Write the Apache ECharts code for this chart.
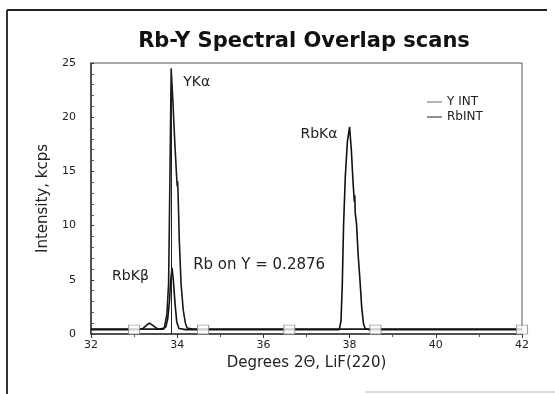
<!DOCTYPE html>
<html>
<head>
<meta charset="utf-8">
<script src="https://cdn.jsdelivr.net/npm/echarts@6/dist/echarts.min.js"></script>
<style>
  html, body { margin: 0; padding: 0; background: #fff; }
  #chart { width: 555px; height: 394px; }
</style>
</head>
<body>
<div id="chart"></div>
<script>
// Y INT scan (2-theta, kcps)
var yAngles = [32.0, 33.0, 33.6, 33.7, 33.76, 33.8, 33.83, 33.86, 33.9, 33.94, 33.98, 34.0, 34.01, 34.02, 34.05, 34.09, 34.14, 34.19, 34.23, 34.35, 35.0, 36.0, 37.0, 38.0, 39.0, 40.0, 41.0, 42.0];
var yInt = [0.45, 0.45, 0.45, 0.55, 1.8, 4.6, 13.9, 24.5, 21.5, 18.0, 15.0, 13.6, 14.1, 13.0, 8.5, 4.6, 2.2, 1.0, 0.55, 0.45, 0.45, 0.45, 0.45, 0.45, 0.45, 0.45, 0.45, 0.45];

// Rb INT scan
var rbAngles = [32.0, 33.1, 33.2, 33.3, 33.36, 33.45, 33.55, 33.68, 33.74, 33.78, 33.82, 33.85, 33.88, 33.91, 33.95, 33.99, 34.04, 34.2, 35.0, 36.0, 37.0, 37.76, 37.8, 37.83, 37.86, 37.9, 37.95, 38.0, 38.04, 38.08, 38.11, 38.12, 38.13, 38.16, 38.2, 38.24, 38.28, 38.32, 38.36, 38.45, 39.0, 40.0, 41.0, 42.0];
var rbInt = [0.4, 0.4, 0.5, 0.85, 1.0, 0.75, 0.45, 0.45, 0.7, 1.4, 3.0, 5.0, 6.1, 5.0, 2.8, 1.1, 0.5, 0.4, 0.4, 0.4, 0.4, 0.4, 1.2, 4.5, 10.0, 14.5, 17.8, 19.1, 17.0, 14.0, 12.2, 12.8, 11.2, 10.2, 7.2, 5.0, 2.5, 1.0, 0.5, 0.4, 0.4, 0.4, 0.4, 0.4];

// square markers on the baseline
var markAngles = [33.0, 34.6, 36.6, 38.6, 42.0];
var markVals = [0.4, 0.4, 0.4, 0.4, 0.4];

var xTicks = [32, 34, 36, 38, 40, 42];
var yTicks = [0, 5, 10, 15, 20, 25];

function pairs(xs, ys) {
  var out = [];
  for (var i = 0; i < xs.length; i++) out.push([xs[i], ys[i]]);
  return out;
}

var font = 'DejaVu Sans, Liberation Sans, sans-serif';
var chart = echarts.init(document.getElementById('chart'));

var option = {
  animation: false,
  backgroundColor: '#fff',
  title: {
    text: 'Rb-Y Spectral Overlap scans',
    left: 299,
    top: 26,
    textAlign: 'center',
    textStyle: { fontFamily: font, fontWeight: 'bold', fontSize: 21, color: '#111' }
  },
  legend: {
    orient: 'vertical',
    left: 422,
    top: 91,
    itemGap: 3,
    itemWidth: 15,
    itemHeight: 1,
    icon: 'rect',
    textStyle: { fontFamily: font, fontSize: 12, color: '#222' },
    data: ['Y INT', 'RbINT']
  },
  grid: {
    left: 91, right: 33, top: 63, bottom: 60,
    show: true, borderColor: '#555', borderWidth: 1
  },
  xAxis: {
    type: 'value',
    min: xTicks[0], max: xTicks[xTicks.length - 1], interval: 2,
    name: 'Degrees 2\u0398, LiF(220)',
    nameLocation: 'middle', nameGap: 17,
    nameTextStyle: { fontFamily: font, fontSize: 15, color: '#222' },
    axisLine: { lineStyle: { color: '#333', width: 1.5 } },
    axisTick: { length: 4, lineStyle: { color: '#333' } },
    minorTick: { show: true, splitNumber: 2, length: 3, lineStyle: { color: '#555' } },
    axisLabel: { fontFamily: font, fontSize: 11, color: '#222', margin: 6 },
    splitLine: { show: false }
  },
  yAxis: {
    type: 'value',
    min: yTicks[0], max: yTicks[yTicks.length - 1], interval: 5,
    name: 'Intensity, kcps',
    nameLocation: 'middle', nameGap: 36,
    nameTextStyle: { fontFamily: font, fontSize: 15, color: '#222' },
    axisLine: { show: true, lineStyle: { color: '#333', width: 1.5 } },
    axisTick: { show: true, length: 3, inside: true, lineStyle: { color: '#333' } },
    minorTick: { show: true, splitNumber: 5, length: 3, lineStyle: { color: '#555' } },
    axisLabel: { fontFamily: font, fontSize: 11, color: '#222', margin: 15 },
    splitLine: { show: false }
  },
  series: [
    {
      name: 'Y INT',
      type: 'line',
      data: pairs(yAngles, yInt),
      showSymbol: false,
      symbol: 'none',
      lineStyle: { color: '#1a1a1a', width: 1.6 },
      itemStyle: { color: '#666' },
      markLine: {
        silent: true,
        symbol: 'none',
        label: { show: false },
        lineStyle: { color: '#222', width: 1, type: 'solid' },
        data: [[{ coord: [33.86, 0] }, { coord: [33.86, 24.5] }]]
      },
      markPoint: {
        symbolSize: 0,
        label: {
          show: true, position: 'right', distance: 0,
          fontFamily: font, fontSize: 14, color: '#222',
          formatter: function (p) { return p.name; }
        },
        data: [
          { name: 'YK\u03b1', coord: [34.14, 23.2] },
          { name: 'RbK\u03b1', coord: [36.86, 18.4] },
          { name: 'RbK\u03b2', coord: [32.49, 5.3] },
          { name: 'Rb on Y = 0.2876', coord: [34.37, 6.4], label: { fontSize: 15 } }
        ]
      }
    },
    {
      name: 'RbINT',
      type: 'line',
      data: pairs(rbAngles, rbInt),
      showSymbol: false,
      symbol: 'none',
      lineStyle: { color: '#111', width: 1.6 },
      itemStyle: { color: '#222' }
    },
    {
      name: 'marks',
      type: 'scatter',
      data: pairs(markAngles, markVals),
      symbol: 'rect',
      symbolSize: [11, 9],
      itemStyle: { color: '#fff', borderColor: '#888', borderWidth: 1 },
      z: 5
    }
  ],
  graphic: [
    { type: 'line', shape: { x1: 7, y1: 10, x2: 547, y2: 10 }, style: { stroke: '#222', lineWidth: 2 } },
    { type: 'line', shape: { x1: 7, y1: 10, x2: 7, y2: 394 }, style: { stroke: '#333', lineWidth: 2 } },
    { type: 'line', shape: { x1: 365, y1: 392, x2: 555, y2: 392 }, style: { stroke: '#bbb', lineWidth: 1 } }
  ]
};

chart.setOption(option);
</script>
</body>
</html>
